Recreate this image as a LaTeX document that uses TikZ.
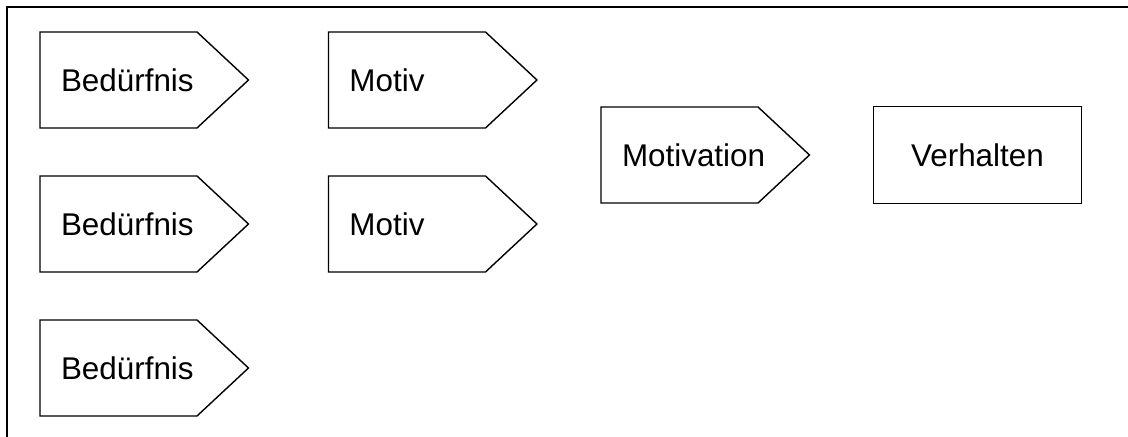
\documentclass[tikz,border=0pt]{standalone}
\usepackage{fontspec}
\setmainfont{Liberation Sans}
\usetikzlibrary{positioning, shapes.symbols}

\begin{document}
\begin{tikzpicture}[x=0.5pt, y=-0.5pt,
        node distance=24pt and 40pt,
        pointbox/.style={signal, signal to=east, signal pointer angle=86, draw, line width=0.7pt, inner xsep=10.5pt, inner ysep=0pt, outer sep=0pt, minimum height=48pt, text width=57.5pt, align=left, font=\fontsize{15.7}{19}\selectfont},
        endbox/.style={rectangle, draw, line width=0.7pt, outer sep=0pt, minimum width=104pt, minimum height=48.5pt, align=center, font=\fontsize{15.7}{19}\selectfont}
    ]
        \useasboundingbox (0,0) rectangle (1128,437);
        \draw[line width=1pt] (7,437) -- (7,7) -- (1128,7);
        \node[pointbox, anchor=west] (need1) at (40,80) {Bedürfnis};
        \node[pointbox, below=of need1] (need2) {Bedürfnis};
        \node[pointbox, below=of need2] (need3) {Bedürfnis};
        \node[pointbox, right=of need1] (motiv1) {Motiv};
        \node[pointbox, right=of need2] (motiv2) {Motiv};
        \node[pointbox, anchor=west] (motivation) at (601,155) {Motivation};
        \node[endbox, right=32pt of motivation] (behav) {Verhalten};
    \end{tikzpicture}
\end{document}
